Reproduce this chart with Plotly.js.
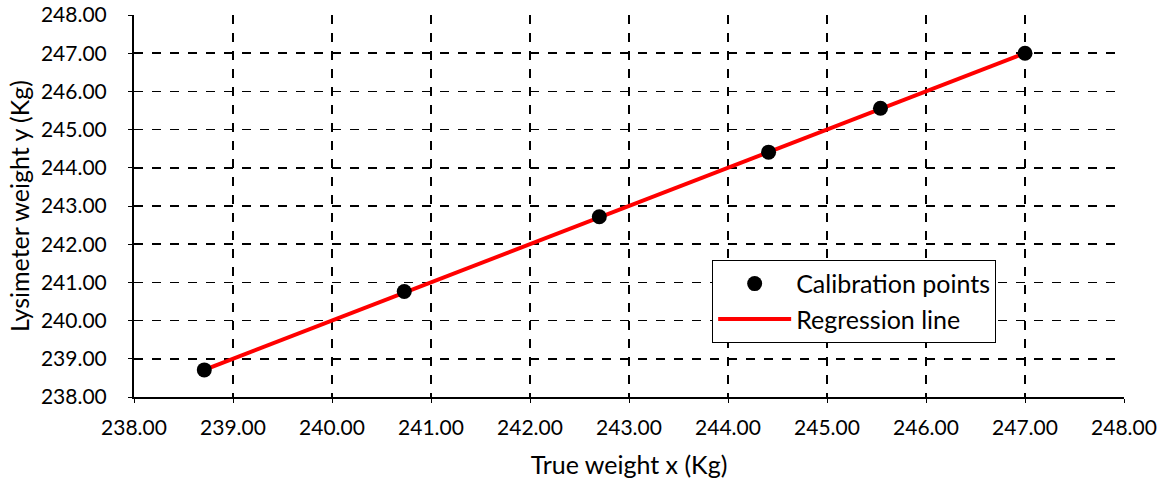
<!DOCTYPE html>
<html>
<head>
<meta charset="utf-8">
<script src="https://cdn.plot.ly/plotly-3.0.1.min.js"></script>
<style>
  html, body { margin: 0; padding: 0; background: #fff; }
  #chart { width: 1166px; height: 482px; }
</style>
</head>
<body>
<div id="chart"></div>
<script>
// Calibration measurements: true weight vs lysimeter reading (kg)
const trueWeight = [238.71, 240.73, 242.70, 244.41, 245.54, 247.00];
const lysimeterWeight = [238.71, 240.76, 242.72, 244.41, 245.56, 247.00];

// Fitted regression line end points
const lineX = [238.71, 247.00];
const lineY = [238.71, 247.00];

const tickVals = [238, 239, 240, 241, 242, 243, 244, 245, 246, 247, 248];
const tickText = tickVals.map(v => v.toFixed(2));

const FONT = 'Lato, "Open Sans", sans-serif';

const traces = [
  {
    x: lineX, y: lineY,
    mode: 'lines',
    type: 'scatter',
    name: 'Regression line',
    line: { color: '#ff0000', width: 4 },
    legendrank: 2
  },
  {
    x: trueWeight, y: lysimeterWeight,
    mode: 'markers',
    type: 'scatter',
    name: 'Calibration points',
    marker: { color: '#000000', size: 15, symbol: 'circle' },
    legendrank: 1
  }
];

const axisCommon = {
  range: [238, 248],
  tickvals: tickVals,
  ticktext: tickText,
  showline: true,
  linecolor: '#000',
  linewidth: 2,
  ticks: 'outside',
  ticklen: 4,
  tickcolor: '#000',
  showgrid: true,
  gridcolor: '#000',
  gridwidth: 1.5,
  griddash: 'dash',
  zeroline: false,
  automargin: false,
  tickfont: { family: FONT, size: 21, color: '#000' }
};

const layout = {
  width: 1166, height: 482,
  margin: { l: 134, r: 42, t: 15, b: 85 },
  paper_bgcolor: '#fff',
  plot_bgcolor: '#fff',
  font: { family: FONT, color: '#000' },
  xaxis: Object.assign({}, axisCommon, {
    ticklabelstandoff: 7,
    title: { text: 'True weight x (Kg)', font: { family: FONT, size: 25, color: '#000' }, standoff: 18 }
  }),
  yaxis: Object.assign({}, axisCommon, {
    ticklabelstandoff: 17,
    title: { text: 'Lysimeter weight y (Kg)', font: { family: FONT, size: 25, color: '#000' }, standoff: 4 }
  }),
  showlegend: true,
  legend: {
    x: 0.584, y: 0.359, xanchor: 'left', yanchor: 'top',
    bgcolor: '#fff',
    bordercolor: '#000',
    borderwidth: 1,
    font: { family: FONT, size: 25, color: '#000' },
    traceorder: 'normal',
    itemwidth: 73
  }
};

Plotly.newPlot('chart', traces, layout, { displayModeBar: false, staticPlot: true });
</script>
</body>
</html>
